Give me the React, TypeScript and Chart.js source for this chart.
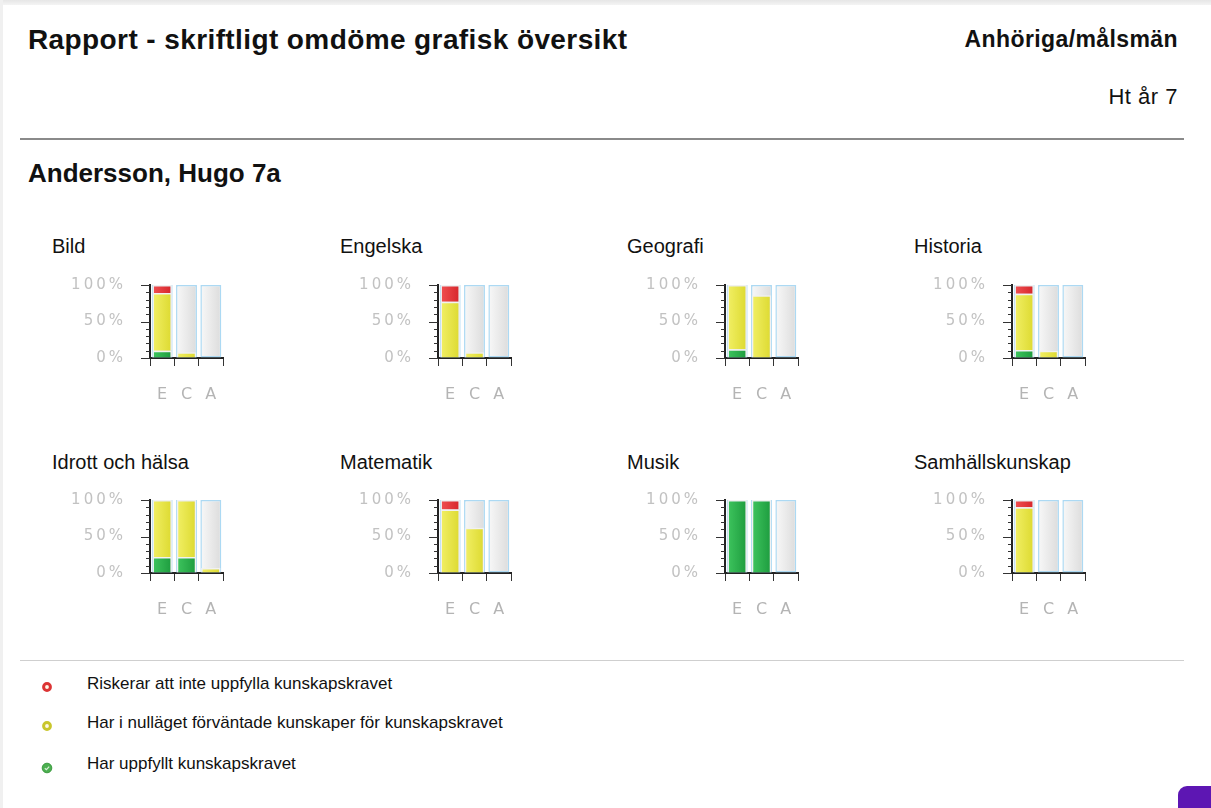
import React, { useEffect, useRef } from "react";
import { Chart, registerables } from "chart.js";
Chart.register(...registerables);

// ---------- DATA ----------
const categories = ["E", "C", "A"];
const subjects = [
  "Bild",
  "Engelska",
  "Geografi",
  "Historia",
  "Idrott och hälsa",
  "Matematik",
  "Musik",
  "Samhällskunskap",
];
// values per subject for categories E, C, A (percent)
const greenValues: (number | null)[][] = [
  [10, null, null],
  [null, null, null],
  [12, null, null],
  [11, null, null],
  [22, 22, null],
  [null, null, null],
  [100, 100, null],
  [null, null, null],
];
const yellowValues: (number | null)[][] = [
  [79, 8, null],
  [77, 8, null],
  [88, 86, null],
  [77, 10, null],
  [78, 78, 7],
  [87, 62, null],
  [null, null, null],
  [90, null, null],
];
const redValues: (number | null)[][] = [
  [11, null, null],
  [23, null, null],
  [null, null, null],
  [12, null, null],
  [null, null, null],
  [13, null, null],
  [null, null, null],
  [10, null, null],
];
const backgroundValues = [100, 100, 100];
const yTickValues = [0, 50, 100];
const yTickLabels = ["0%", "50%", "100%"];
const legendLabels = [
  "Riskerar att inte uppfylla kunskapskravet",
  "Har i nulläget förväntade kunskaper för kunskapskravet",
  "Har uppfyllt kunskapskravet",
];
const reportTitle = "Rapport - skriftligt omdöme grafisk översikt";
const audience = "Anhöriga/målsmän";
const term = "Ht år 7";
const studentName = "Andersson, Hugo 7a";

// ---------- LAYOUT ----------
const plotLefts = [150, 438, 725, 1012];
const plotTops = [285, 500];
const titleXs = [52, 340, 627, 914];
const titleTops = [236, 452];
const CANVAS_W = 200;
const CANVAS_H = 140;
const Y_AXIS_W = 110;
const PAD_TOP = 15;
const PLOT = 73;

const SANS = '"Liberation Sans", Arial, sans-serif';

function gradient(stops: [string, string], frac: number) {
  return (ctx: any) => {
    const chart = ctx.chart;
    const xs = chart.scales && chart.scales.x;
    if (!xs || !chart.chartArea || ctx.type !== "data") return stops[1];
    const cx = xs.getPixelForValue(ctx.dataIndex);
    const w = ((xs.right - xs.left) / categories.length) * frac;
    const g = chart.ctx.createLinearGradient(cx - w / 2, 0, cx + w / 2, 0);
    g.addColorStop(0, stops[0]);
    g.addColorStop(1, stops[1]);
    return g;
  };
}

const yTickPlugin = {
  id: "yMinorTicks",
  beforeDraw(chart: any) {
    try {
      chart.ctx.letterSpacing = "3px";
    } catch (e) {}
  },
  afterDraw(chart: any) {
    const ys = chart.scales.y;
    const ctx = chart.ctx;
    const x = ys.right;
    ctx.save();
    ctx.strokeStyle = "#333";
    ctx.lineWidth = 1;
    for (let v = 0; v <= 100; v += 10) {
      const y = Math.round(ys.getPixelForValue(v)) + 0.5;
      const major = yTickValues.includes(v);
      ctx.beginPath();
      ctx.moveTo(x - (major ? 9 : 4), y);
      ctx.lineTo(x, y);
      ctx.stroke();
    }
    ctx.restore();
  },
};

function SubjectChart({ index }: { index: number }) {
  const ref = useRef<HTMLCanvasElement>(null);
  const col = index % 4;
  const row = Math.floor(index / 4);
  useEffect(() => {
    const canvas = ref.current!;
    const dataBar = {
      stack: "data",
      grouped: false,
      order: 0,
      categoryPercentage: 1,
      barPercentage: 0.8,
      borderWidth: 1.5,
      borderColor: "#f1f1f1",
    };
    const chart = new Chart(canvas, {
      type: "bar",
      data: {
        labels: categories,
        datasets: [
          {
            ...dataBar,
            label: legendLabels[2],
            data: greenValues[index],
            backgroundColor: gradient(["#3cc25c", "#1f9e40"], 0.7),
          },
          {
            ...dataBar,
            label: legendLabels[1],
            data: yellowValues[index],
            backgroundColor: gradient(["#f0ee62", "#dedb33"], 0.7),
          },
          {
            ...dataBar,
            label: legendLabels[0],
            data: redValues[index],
            backgroundColor: gradient(["#ef4d4f", "#d8282d"], 0.7),
          },
          {
            label: "bg",
            stack: "bg",
            grouped: false,
            order: 1,
            data: backgroundValues,
            categoryPercentage: 1,
            barPercentage: 0.86,
            borderWidth: 1.5,
            borderSkipped: false,
            borderColor: "#acd9f3",
            backgroundColor: gradient(["#f8f8f8", "#dcdcdc"], 0.86),
          },
        ],
      } as any,
      options: {
        animation: false,
        responsive: false,
        events: [],
        layout: { padding: { top: PAD_TOP, right: CANVAS_W - Y_AXIS_W - PLOT, left: 0, bottom: 0 } },
        plugins: { legend: { display: false }, tooltip: { enabled: false }, title: { display: false } },
        scales: {
          x: {
            type: "category",
            offset: true,
            grid: {
              offset: true,
              drawOnChartArea: false,
              drawTicks: true,
              tickLength: 8,
              color: "#333",
              lineWidth: 1,
            },
            border: { display: true, color: "#222", width: 2 },
            ticks: {
              color: "#b4b4b4",
              font: { family: '"DejaVu Sans", Verdana, sans-serif', size: 16 },
              padding: 19,
              labelOffset: 1.5,
              maxRotation: 0,
              autoSkip: false,
            },
            afterFit: (s: any) => {
              s.height = CANVAS_H - PAD_TOP - PLOT;
              s.paddingLeft = 0;
              s.paddingRight = 0;
            },
          },
          y: {
            stacked: true,
            min: 0,
            max: 100,
            grid: { drawOnChartArea: false, drawTicks: false },
            border: { display: true, color: "#222", width: 2 },
            ticks: {
              stepSize: 10,
              autoSkip: false,
              color: "#c2c2c2",
              font: { family: '"DejaVu Sans", Verdana, sans-serif', size: 15 },
              padding: 24,
              callback: (v: any) => {
                const i = yTickValues.indexOf(Number(v));
                return i >= 0 ? yTickLabels[i] : "";
              },
            },
            afterFit: (s: any) => {
              s.width = Y_AXIS_W;
              s.paddingTop = 0;
              s.paddingBottom = 0;
            },
          },
        },
      } as any,
      plugins: [yTickPlugin],
    });
    return () => chart.destroy();
  }, [index]);
  return (
    <>
      <div
        style={{
          position: "absolute",
          left: titleXs[col],
          top: titleTops[row],
          fontFamily: SANS,
          fontSize: 20,
          lineHeight: "20px",
          color: "#111",
          whiteSpace: "nowrap",
        }}
      >
        {subjects[index]}
      </div>
      <canvas
        ref={ref}
        width={CANVAS_W}
        height={CANVAS_H}
        style={{
          position: "absolute",
          left: plotLefts[col] - Y_AXIS_W,
          top: plotTops[row] - PAD_TOP,
          width: CANVAS_W,
          height: CANVAS_H,
        }}
      />
    </>
  );
}

function LegendIcon({ kind }: { kind: number }) {
  if (kind === 2) {
    return (
      <svg width="12" height="12" viewBox="0 0 12 12">
        <circle cx="6" cy="6" r="4.8" fill="#4caf50" stroke="#3a9a3e" strokeWidth="1" />
        <path d="M3.8 6.2 L5.4 7.7 L8.2 4.6" stroke="#d8f0d8" strokeWidth="1.2" fill="none" />
      </svg>
    );
  }
  const c = kind === 0 ? "#dc3434" : "#c9c62c";
  return (
    <svg width="12" height="12" viewBox="0 0 12 12">
      <circle cx="6" cy="6" r="3.4" fill="#fff8e8" stroke={c} strokeWidth="3" />
    </svg>
  );
}

export default function App() {
  useEffect(() => {
    document.body.style.margin = "0";
  }, []);
  const legendTops = [675, 714, 755];
  const iconCenters = [685, 724, 766];
  return (
    <div
      style={{
        position: "fixed",
        left: 0,
        top: 0,
        width: 1211,
        height: 808,
        overflow: "hidden",
        background: "#fff",
        fontFamily: SANS,
      }}
    >
      <div style={{ position: "absolute", left: 0, top: 0, width: 1211, height: 5, background: "linear-gradient(#e6e6e6, #f4f4f4)" }} />
      <div style={{ position: "absolute", left: 0, top: 0, width: 3, height: 808, background: "#f0f0f0" }} />
      <div
        style={{
          position: "absolute",
          left: 28,
          top: 26,
          fontSize: 28,
          lineHeight: "28px",
          fontWeight: "bold",
          letterSpacing: "0.4px",
          color: "#111",
          whiteSpace: "nowrap",
        }}
      >
        {reportTitle}
      </div>
      <div
        style={{
          position: "absolute",
          right: 1211 - 1178,
          top: 28,
          fontSize: 23,
          lineHeight: "23px",
          fontWeight: "bold",
          letterSpacing: "0.4px",
          color: "#111",
          whiteSpace: "nowrap",
        }}
      >
        {audience}
      </div>
      <div
        style={{
          position: "absolute",
          right: 1211 - 1178,
          top: 86,
          fontSize: 22,
          lineHeight: "22px",
          letterSpacing: "0.5px",
          color: "#111",
          whiteSpace: "nowrap",
        }}
      >
        {term}
      </div>
      <div style={{ position: "absolute", left: 20, top: 138, width: 1164, height: 2, background: "#8a8a8a" }} />
      <div
        style={{
          position: "absolute",
          left: 28,
          top: 160,
          fontSize: 26,
          lineHeight: "26px",
          fontWeight: "bold",
          color: "#111",
          whiteSpace: "nowrap",
        }}
      >
        {studentName}
      </div>
      {subjects.map((_, i) => (
        <SubjectChart key={i} index={i} />
      ))}
      <div style={{ position: "absolute", left: 20, top: 660, width: 1164, height: 1, background: "#cfcfcf" }} />
      {legendLabels.map((t, i) => (
        <React.Fragment key={i}>
          <div style={{ position: "absolute", left: 41, top: iconCenters[i] - 6, width: 12, height: 12 }}>
            <LegendIcon kind={i} />
          </div>
          <div
            style={{
              position: "absolute",
              left: 87,
              top: legendTops[i],
              fontSize: 17,
              lineHeight: "17px",
              color: "#111",
              whiteSpace: "nowrap",
            }}
          >
            {t}
          </div>
        </React.Fragment>
      ))}
      <div
        style={{
          position: "absolute",
          left: 1178,
          top: 786,
          width: 44,
          height: 44,
          borderRadius: 9,
          background: "#5d16b3",
        }}
      />
    </div>
  );
}
